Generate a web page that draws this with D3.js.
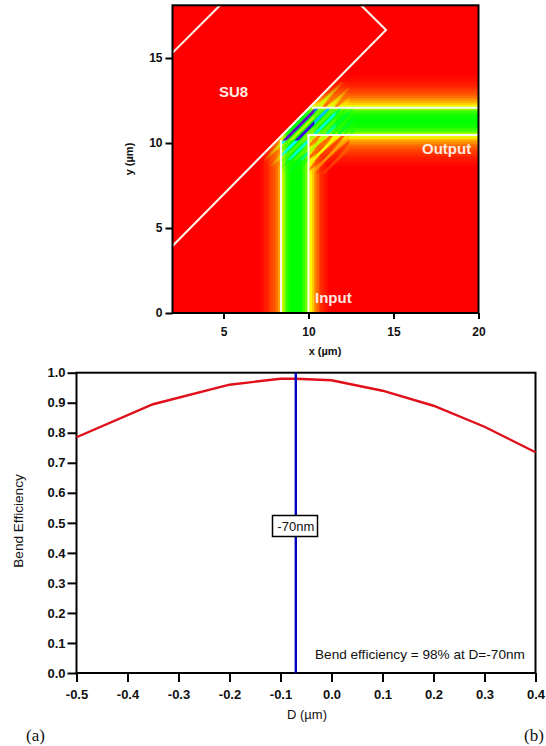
<!DOCTYPE html>
<html>
<head>
<meta charset="utf-8">
<script src="https://cdn.jsdelivr.net/npm/d3@7"></script>
<style>
  body { margin: 0; background: #fff; }
  text { font-family: "Liberation Sans", Arial, sans-serif; }
  .tick text { font-weight: bold; fill: #111; }
</style>
</head>
<body>
<div id="chart"></div>
<script>
// top panel: tick labels
const mapXTicks = [5, 10, 15, 20];
const mapYTicks = [0, 5, 10, 15];

// white outlines, in um
const wallX = [2, 14.56, 13.09];
const wallY = [3.94, 16.65, 18.1];
const cornerX = [2, 4.8];
const cornerY = [15.3, 18.1];
const inputLeftX = [8.38, 8.38];
const inputLeftY = [0, 10.18];
const guideBendX = [10, 10, 20];
const guideBendY = [0, 10.47, 10.47];
const outputTopX = [10.2, 20];
const outputTopY = [12.08, 12.08];

// intensity across each guide
const inputOffsets = [-2.1, -1.6, -1.1, -0.88, -0.76, -0.65, -0.47, -0.29, 0, 0.29, 0.47, 0.65, 0.82, 1, 1.18, 1.47, 1.9];
const inputLevels = [0, 0.04, 0.11, 0.2, 0.3, 0.38, 0.46, 0.5, 0.5, 0.5, 0.46, 0.38, 0.28, 0.2, 0.13, 0.05, 0];
const outputOffsets = [-2.7, -2.1, -1.6, -1.2, -0.95, -0.8, -0.6, -0.4, 0, 0.4, 0.6, 0.8, 0.95, 1.2, 1.6, 2.1, 2.7];
const outputLevels = [0, 0.03, 0.08, 0.15, 0.23, 0.32, 0.42, 0.48, 0.5, 0.48, 0.42, 0.32, 0.23, 0.15, 0.08, 0.03, 0];

// interference fringes at the bend: lines of constant x - y
const fringeOffsets = [-1.56, -1.21, -0.85, -0.5, -0.15, 0.21, 0.56, 0.91, 1.26, 1.62, 1.97, 2.32, 2.68];
const fringeZones = [
  { x: [7.4, 8.35], y: [8.6, 10.3], levels: [0.3, 0.12, 0.3, 0.1, 0.22, null, null, null, null, null, null, null, null] },
  { x: [8.38, 10], y: [7.9, 9], levels: [0.5, 0.46, 0.54, 0.46, 0.54, 0.47, 0.53, 0.48, null, null, null, null, null] },
  { x: [8.38, 10], y: [9, 10.15], levels: [0.7, 0.42, 0.7, 0.42, 0.66, 0.42, 0.6, 0.45, 0.55, null, null, null, null] },
  { x: [8.38, 10.35], y: [10.15, 12.2], levels: [0.98, 0.33, 0.93, 0.38, 0.72, 0.42, null, null, null, null, null, null, null] },
  { x: [10.35, 11.6], y: [10.5, 12.08], levels: [0.8, 0.4, 0.74, 0.42, 0.66, 0.42, 0.62, 0.45, 0.56, null, null, null, null] },
  { x: [11.6, 12.7], y: [10.5, 12.08], levels: [null, null, null, null, 0.55, 0.46, 0.54, 0.46, 0.54, 0.47, 0.53, 0.48, 0.52] },
  { x: [10.05, 12.4], y: [8.2, 10.42], levels: [null, null, null, null, 0.32, 0.12, 0.32, 0.1, 0.26, 0.06, 0.18, 0.03, 0.12] },
  { x: [10.2, 12.4], y: [12.12, 13.6], levels: [0.3, 0.1, 0.28, 0.1, 0.24, null, null, null, null, null, null, null, null] }
];

// colour bar of the map
const rainbowLevels = [0, 0.25, 0.5, 0.7, 0.87, 1];
const rainbowColors = ["#ff0000", "#ffff00", "#00ff00", "#00ffff", "#0000ff", "#7a00c8"];

// bottom panel
const offsets = [-0.5, -0.35, -0.2, -0.1, -0.07, 0, 0.1, 0.2, 0.3, 0.4];
const efficiency = [0.785, 0.895, 0.96, 0.98, 0.98, 0.975, 0.94, 0.89, 0.82, 0.735];
const effXTicks = [-0.5, -0.4, -0.3, -0.2, -0.1, 0, 0.1, 0.2, 0.3, 0.4];
const effYTicks = [0, 0.1, 0.2, 0.3, 0.4, 0.5, 0.6, 0.7, 0.8, 0.9, 1];
const bestD = -0.07;

const svg = d3.select("#chart").append("svg")
    .attr("width", 546)
    .attr("height", 746)
    .style("display", "block");

const defs = svg.append("defs");

// ---------- top panel ----------
const mapX = d3.scaleLinear().domain([2, 20]).range([172.5, 478.5]);
const mapY = d3.scaleLinear().domain([0, 18.1]).range([313, 5.3]);
const rainbow = d3.scaleLinear().domain(rainbowLevels).range(rainbowColors);
const inputProfile = d3.scaleLinear().domain(inputOffsets).range(inputLevels).clamp(true);
const outputProfile = d3.scaleLinear().domain(outputOffsets).range(outputLevels).clamp(true);
const inputCentre = d3.mean([inputLeftX[0], guideBendX[0]]);
const outputCentre = d3.mean([guideBendY[1], outputTopY[0]]);

defs.append("filter").attr("id", "fringeBlur")
    .attr("filterUnits", "userSpaceOnUse")
    .attr("x", 172).attr("y", 5).attr("width", 307).attr("height", 308)
  .append("feGaussianBlur").attr("stdDeviation", 0.6);

// fringes die away from the bend
const fade = defs.append("radialGradient").attr("id", "fringeFade")
    .attr("gradientUnits", "userSpaceOnUse")
    .attr("cx", mapX(10)).attr("cy", mapY(11)).attr("r", 58);
fade.append("stop").attr("offset", 0.5).attr("stop-color", "#fff");
fade.append("stop").attr("offset", 1).attr("stop-color", "#000");
defs.append("mask").attr("id", "fringeMask")
    .attr("maskUnits", "userSpaceOnUse")
    .attr("x", 172).attr("y", 5).attr("width", 307).attr("height", 308)
  .append("rect")
    .attr("x", 172).attr("y", 5).attr("width", 307).attr("height", 308)
    .attr("fill", "url(#fringeFade)");

defs.append("clipPath").attr("id", "mapClip")
  .append("rect")
    .attr("x", mapX(2)).attr("y", mapY(18.1))
    .attr("width", mapX(20) - mapX(2)).attr("height", mapY(0) - mapY(18.1));

// everything right of the SU8 wall
defs.append("clipPath").attr("id", "wallClip")
  .append("polygon")
    .attr("points", [[wallX[0], wallY[0]], [wallX[1], wallY[1]], [20, wallY[1]], [20, 0], [2, 0]]
      .map(d => [mapX(d[0]), mapY(d[1])].join(",")).join(" "));

const map = svg.append("g");
map.append("rect")
    .attr("x", mapX(2)).attr("y", mapY(18.1))
    .attr("width", mapX(20) - mapX(2)).attr("height", mapY(0) - mapY(18.1))
    .attr("fill", "#ff0000");

// field cells: the stronger of the two guide modes
const cellSize = 0.1;
const cells = [];
d3.range(6.5, 20, cellSize).forEach(x => {
  d3.range(0, 14.5, cellSize).forEach(y => {
    const a = inputProfile(x - inputCentre);
    const b = x > inputLeftX[0] ? outputProfile(y - outputCentre) : 0;
    const level = Math.max(a, b);
    if (level > 0) cells.push({ x, y, level });
  });
});

const field = map.append("g")
    .attr("clip-path", "url(#wallClip)")
  .append("g")
    .attr("clip-path", "url(#mapClip)");

field.append("g")
    .attr("shape-rendering", "crispEdges")
  .selectAll("rect")
  .data(cells)
  .join("rect")
    .attr("x", d => mapX(d.x))
    .attr("y", d => mapY(d.y + cellSize))
    .attr("width", mapX(cellSize) - mapX(0) + 0.6)
    .attr("height", mapY(0) - mapY(cellSize) + 0.6)
    .attr("fill", d => rainbow(d.level));

// fringes, one clipped set per zone
const fringes = field.append("g").attr("mask", "url(#fringeMask)");
fringeZones.forEach((zone, i) => {
  defs.append("clipPath").attr("id", "zone" + i)
    .append("rect")
      .attr("x", mapX(zone.x[0])).attr("y", mapY(zone.y[1]))
      .attr("width", mapX(zone.x[1]) - mapX(zone.x[0]))
      .attr("height", mapY(zone.y[0]) - mapY(zone.y[1]));
  fringes.append("g")
      .attr("filter", "url(#fringeBlur)")
    .append("g")
      .attr("clip-path", "url(#zone" + i + ")")
    .selectAll("line")
    .data(fringeOffsets.map((d, j) => ({ d, level: zone.levels[j] })).filter(d => d.level !== null))
    .join("line")
      .attr("x1", d => mapX(2))
      .attr("y1", d => mapY(2 - d.d))
      .attr("x2", d => mapX(20))
      .attr("y2", d => mapY(20 - d.d))
      .attr("stroke", d => rainbow(d.level))
      .attr("stroke-width", 2.8);
});

const outline = d3.line().x(d => mapX(d[0])).y(d => mapY(d[1]));
const outlines = [
  d3.zip(wallX, wallY),
  d3.zip(cornerX, cornerY),
  d3.zip(inputLeftX, inputLeftY),
  d3.zip(guideBendX, guideBendY),
  d3.zip(outputTopX, outputTopY)
];
map.append("g")
  .selectAll("path")
  .data(outlines)
  .join("path")
    .attr("d", outline)
    .attr("fill", "none")
    .attr("stroke", "#fffaf0")
    .attr("stroke-width", 2);

function frame(x, y, thin) {
  svg.append("rect")
      .attr("x", x.range()[0]).attr("y", y.range()[1])
      .attr("width", x.range()[1] - x.range()[0])
      .attr("height", y.range()[0] - y.range()[1])
      .attr("fill", "none")
      .attr("stroke", "#000")
      .attr("stroke-width", thin);
}

function styleAxis(g, size) {
  g.select(".domain").remove();
  g.selectAll(".tick line").attr("stroke", "#000").attr("stroke-width", 2);
  g.selectAll(".tick text").attr("font-size", size);
}

frame(mapX, mapY, 2);

svg.append("g")
    .attr("transform", `translate(0,${mapY(0)})`)
    .call(d3.axisBottom(mapX).tickValues(mapXTicks).tickSize(6).tickPadding(8).tickFormat(d3.format("d")))
    .call(styleAxis, 12);
svg.append("g")
    .attr("transform", `translate(${mapX(2)},0)`)
    .call(d3.axisLeft(mapY).tickValues(mapYTicks).tickSize(7).tickPadding(3).tickFormat(d3.format("d")))
    .call(styleAxis, 12);

svg.append("text")
    .attr("x", 325).attr("y", 355)
    .attr("text-anchor", "middle")
    .attr("font-size", 11).attr("font-weight", "bold").attr("fill", "#111")
    .text("x (µm)");
svg.append("text")
    .attr("transform", "translate(133,159) rotate(-90)")
    .attr("text-anchor", "middle")
    .attr("font-size", 11).attr("font-weight", "bold").attr("fill", "#111")
    .text("y (µm)");

const mapNotes = [
  { text: "SU8", x: 219, y: 97 },
  { text: "Output", x: 422, y: 154 },
  { text: "Input", x: 315, y: 303 }
];
svg.append("g")
  .selectAll("text")
  .data(mapNotes)
  .join("text")
    .attr("x", d => d.x)
    .attr("y", d => d.y)
    .attr("font-size", 15)
    .attr("font-weight", "bold")
    .attr("fill", "#ffe9e0")
    .text(d => d.text);

// ---------- bottom panel ----------
const effX = d3.scaleLinear().domain([-0.5, 0.4]).range([76.5, 535.5]);
const effY = d3.scaleLinear().domain([0, 1]).range([673, 372.7]);

frame(effX, effY, 2);

const effLine = d3.line().x((d, i) => effX(offsets[i])).y(d => effY(d));
svg.append("path")
    .datum(efficiency)
    .attr("d", effLine)
    .attr("fill", "none")
    .attr("stroke", "#e0101a")
    .attr("stroke-width", 2.4);

svg.append("line")
    .attr("x1", effX(bestD)).attr("x2", effX(bestD))
    .attr("y1", effY(1)).attr("y2", effY(0))
    .attr("stroke", "#0000c0")
    .attr("stroke-width", 2.4);

svg.append("g")
    .attr("transform", `translate(0,${effY(0)})`)
    .call(d3.axisBottom(effX).tickValues(effXTicks).tickSize(9).tickPadding(8).tickFormat(d3.format(".1f")))
    .call(styleAxis, 13);
svg.append("g")
    .attr("transform", `translate(${effX(-0.5)},0)`)
    .call(d3.axisLeft(effY).tickValues(effYTicks).tickSize(9).tickPadding(2).tickFormat(d3.format(".1f")))
    .call(styleAxis, 13);

// d3.format gives a unicode minus, the figure uses a plain hyphen
svg.selectAll(".tick text").text(function () {
  return d3.select(this).text().replace("−", "-");
});

svg.append("rect")
    .attr("x", 272.5).attr("y", 515.5)
    .attr("width", 45).attr("height", 21)
    .attr("fill", "#fff")
    .attr("stroke", "#000")
    .attr("stroke-width", 1.5);
svg.append("text")
    .attr("x", effX(bestD)).attr("y", 531)
    .attr("text-anchor", "middle")
    .attr("font-size", 13).attr("fill", "#111")
    .text("-70nm");

svg.append("text")
    .attr("x", 315).attr("y", 659)
    .attr("font-size", 13.6).attr("fill", "#111")
    .text("Bend efficiency = 98% at D=-70nm");

svg.append("text")
    .attr("x", 307).attr("y", 719)
    .attr("text-anchor", "middle")
    .attr("font-size", 13).attr("fill", "#111")
    .text("D (µm)");
svg.append("text")
    .attr("transform", "translate(23,521) rotate(-90)")
    .attr("text-anchor", "middle")
    .attr("font-size", 13.6).attr("fill", "#111")
    .text("Bend Efficiency");

svg.append("text")
    .attr("x", 26).attr("y", 741)
    .style("font-family", "'Liberation Serif', serif")
    .attr("font-size", 17).attr("fill", "#111")
    .text("(a)");
svg.append("text")
    .attr("x", 524).attr("y", 741)
    .style("font-family", "'Liberation Serif', serif")
    .attr("font-size", 17).attr("fill", "#111")
    .text("(b)");
</script>
</body>
</html>
